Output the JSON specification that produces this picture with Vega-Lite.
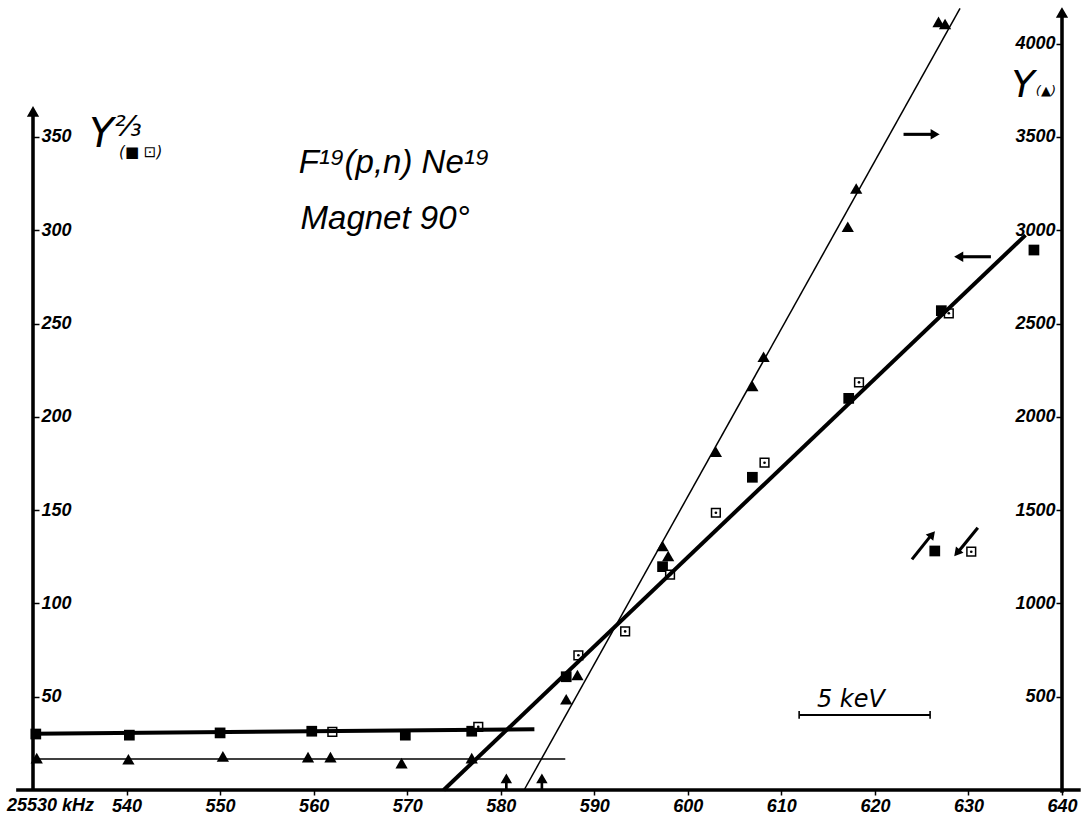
{
  "$schema": "https://vega.github.io/schema/vega-lite/v6.json",
  "width": 1029,
  "height": 790,
  "autosize": {"type": "none"},
  "padding": {"left": 33, "top": 0, "right": 24, "bottom": 27},
  "background": "white",
  "config": {
    "view": {"stroke": null},
    "axis": {
      "grid": false,
      "domain": false,
      "labelFont": "Liberation Sans",
      "labelFontSize": 18,
      "labelFontWeight": "bold",
      "labelFontStyle": "italic",
      "labelColor": "black",
      "tickColor": "black",
      "tickWidth": 1.5
    }
  },
  "datasets": {
    "sq": [
      {"x": 530.3, "y": 30.0, "k": "filled"},
      {"x": 540.3, "y": 29.4, "k": "filled"},
      {"x": 550.0, "y": 30.6, "k": "filled"},
      {"x": 559.8, "y": 31.5, "k": "filled"},
      {"x": 562.0, "y": 31.2, "k": "open"},
      {"x": 569.8, "y": 29.4, "k": "filled"},
      {"x": 576.9, "y": 31.5, "k": "filled"},
      {"x": 577.6, "y": 33.8, "k": "open"},
      {"x": 587.0, "y": 60.7, "k": "filled"},
      {"x": 588.3, "y": 72.2, "k": "open"},
      {"x": 593.3, "y": 85.0, "k": "open"},
      {"x": 597.3, "y": 119.7, "k": "filled"},
      {"x": 598.1, "y": 115.4, "k": "open"},
      {"x": 603.0, "y": 148.6, "k": "open"},
      {"x": 606.9, "y": 167.6, "k": "filled"},
      {"x": 608.2, "y": 175.4, "k": "open"},
      {"x": 617.2, "y": 209.9, "k": "filled"},
      {"x": 618.3, "y": 218.5, "k": "open"},
      {"x": 627.1, "y": 256.9, "k": "filled"},
      {"x": 627.9, "y": 255.5, "k": "open"},
      {"x": 637.0, "y": 289.4, "k": "filled"},
      {"x": 626.4, "y": 128.1, "k": "filled"},
      {"x": 630.3, "y": 127.7, "k": "open"}
    ]
  },
  "resolve": {"scale": {"y": "independent"}},
  "layer": [
    {
      "data": {"name": "sq"},
      "transform": [{"filter": "datum.k === 'filled'"}],
      "mark": {"type": "point", "shape": "square", "filled": true, "size": 115, "color": "black", "opacity": 1},
      "encoding": {
        "x": {"field": "x", "type": "quantitative", "title": null, "scale": {"domain": [530, 640], "nice": false, "zero": false},
          "axis": {"orient": "bottom", "values": [540, 550, 560, 570, 580, 590, 600, 610, 620, 630, 640],
            "tickSize": 5, "labelPadding": 2, "labelFlush": false, "labelOverlap": false}},
        "y": {"field": "y", "type": "quantitative", "title": null, "scale": {"domain": [0, 423.4], "nice": false, "zero": false},
          "axis": {"orient": "right", "offset": -1029, "values": [50, 100, 150, 200, 250, 300, 350],
            "tickSize": 6, "labelPadding": 2, "labelAlign": "left"}}
      }
    },
    {
      "data": {"name": "sq"},
      "transform": [{"filter": "datum.k === 'open'"}],
      "mark": {"type": "point", "shape": "square", "filled": true, "fill": "white", "stroke": "black", "strokeWidth": 1.5, "size": 76, "opacity": 1},
      "encoding": {
        "x": {"field": "x", "type": "quantitative", "title": null, "scale": {"domain": [530, 640], "nice": false, "zero": false}},
        "y": {"field": "y", "type": "quantitative", "scale": {"domain": [0, 423.4], "nice": false, "zero": false}, "axis": null}
      }
    },
    {
      "data": {"name": "sq"},
      "transform": [{"filter": "datum.k === 'open'"}],
      "mark": {"type": "point", "shape": "circle", "filled": true, "color": "black", "size": 7, "opacity": 1},
      "encoding": {
        "x": {"field": "x", "type": "quantitative", "title": null, "scale": {"domain": [530, 640], "nice": false, "zero": false}},
        "y": {"field": "y", "type": "quantitative", "scale": {"domain": [0, 423.4], "nice": false, "zero": false}, "axis": null}
      }
    },
    {
      "data": {"values": [
        {"x1": 530.0, "y1": 30.2, "x2": 583.6, "y2": 32.6, "w": "thick"},
        {"x1": 573.9, "y1": 0.0, "x2": 636.1, "y2": 297.4, "w": "thick"},
        {"x1": 528.2, "y1": 0.0, "x2": 642.0, "y2": 0.0, "w": "axis"},
        {"x1": 530.0, "y1": -0.5, "x2": 530.0, "y2": 364.0, "w": "axis"},
        {"x1": 640.0, "y1": -1.5, "x2": 640.0, "y2": 416.0, "w": "axis"},
        {"x1": 623.06, "y1": 351.4, "x2": 626.2, "y2": 351.4, "w": "arrow"},
        {"x1": 632.4, "y1": 285.8, "x2": 629.2, "y2": 285.8, "w": "arrow"},
        {"x1": 623.96, "y1": 123.6, "x2": 625.9, "y2": 135.8, "w": "arrow"},
        {"x1": 631.0, "y1": 140.6, "x2": 629.0, "y2": 128.2, "w": "arrow"},
        {"x1": 580.6, "y1": 0.0, "x2": 580.6, "y2": 5.0, "w": "shaft"},
        {"x1": 584.4, "y1": 0.0, "x2": 584.4, "y2": 5.0, "w": "shaft"},
        {"x1": 611.9, "y1": 40.2, "x2": 625.9, "y2": 40.2, "w": "bar"}
      ]},
      "mark": {"type": "rule", "color": "black", "strokeCap": "butt"},
      "encoding": {
        "x": {"field": "x1", "type": "quantitative", "title": null, "scale": {"domain": [530, 640], "nice": false, "zero": false}},
        "x2": {"field": "x2"},
        "y": {"field": "y1", "type": "quantitative", "scale": {"domain": [0, 423.4], "nice": false, "zero": false}, "axis": null},
        "y2": {"field": "y2"},
        "strokeWidth": {"field": "w", "type": "nominal", "legend": null,
          "scale": {"domain": ["thick", "axis", "arrow", "shaft", "bar"], "range": [4, 2.2, 2.2, 3.2, 1.6]}}
      }
    },
    {
      "data": {"values": [
        {"x": 530.0, "y": 363.5, "shape": "triangle-up", "a": 0, "s": 90},
        {"x": 640.0, "y": 416.5, "shape": "triangle-up", "a": 0, "s": 90},
        {"x": 626.4, "y": 351.4, "shape": "triangle-right", "a": 0, "s": 60},
        {"x": 629.0, "y": 285.8, "shape": "triangle-left", "a": 0, "s": 60},
        {"x": 626.1, "y": 136.8, "shape": "triangle-up", "a": 40, "s": 50},
        {"x": 628.8, "y": 127.2, "shape": "triangle-up", "a": 220, "s": 50},
        {"x": 580.6, "y": 6.0, "shape": "triangle-up", "a": 0, "s": 75},
        {"x": 584.4, "y": 6.0, "shape": "triangle-up", "a": 0, "s": 75},
        {"x": 611.9, "y": 40.2, "shape": "stroke", "a": 90, "s": 60},
        {"x": 625.9, "y": 40.2, "shape": "stroke", "a": 90, "s": 60}
      ]},
      "mark": {"type": "point", "filled": true, "color": "black", "opacity": 1, "strokeWidth": 1.6},
      "encoding": {
        "x": {"field": "x", "type": "quantitative", "title": null, "scale": {"domain": [530, 640], "nice": false, "zero": false}},
        "y": {"field": "y", "type": "quantitative", "scale": {"domain": [0, 423.4], "nice": false, "zero": false}, "axis": null},
        "shape": {"field": "shape", "type": "nominal", "scale": null, "legend": null},
        "angle": {"field": "a", "type": "quantitative", "scale": null},
        "size": {"field": "s", "type": "quantitative", "scale": null, "legend": null},
        "stroke": {"value": "black"}
      }
    },
    {
      "data": {"values": [
        {"x": 558.4, "y": 330.7, "t": "F¹⁹(p,n) Ne¹⁹"},
        {"x": 558.6, "y": 300.6, "t": "Magnet 90°"}
      ]},
      "mark": {"type": "text", "font": "Liberation Sans", "fontSize": 33, "fontStyle": "italic", "align": "left", "baseline": "alphabetic", "color": "black"},
      "encoding": {
        "x": {"field": "x", "type": "quantitative", "title": null, "scale": {"domain": [530, 640], "nice": false, "zero": false}},
        "y": {"field": "y", "type": "quantitative", "scale": {"domain": [0, 423.4], "nice": false, "zero": false}, "axis": null},
        "text": {"field": "t"}
      }
    },
    {
      "data": {"values": [
        {"x": 536.0, "y": 344.6, "t": "Y", "fs": 40},
        {"x": 634.6, "y": 371.5, "t": "Y", "fs": 38},
        {"x": 538.7, "y": 350.5, "t": "⅔", "fs": 28},
        {"x": 539.2, "y": 339.0, "t": "(■ ⊡)", "fs": 15},
        {"x": 637.2, "y": 372.3, "t": "(▲)", "fs": 13},
        {"x": 613.8, "y": 44.6, "t": "5 keV", "fs": 24}
      ]},
      "mark": {"type": "text", "font": "DejaVu Sans", "fontStyle": "italic", "align": "left", "baseline": "alphabetic", "color": "black"},
      "encoding": {
        "x": {"field": "x", "type": "quantitative", "title": null, "scale": {"domain": [530, 640], "nice": false, "zero": false}},
        "y": {"field": "y", "type": "quantitative", "scale": {"domain": [0, 423.4], "nice": false, "zero": false}, "axis": null},
        "text": {"field": "t"},
        "size": {"field": "fs", "type": "quantitative", "scale": null, "legend": null}
      }
    },
    {
      "data": {"values": [{"x": 530.0, "y": 0.0, "t": "25530 kHz"}]},
      "mark": {"type": "text", "font": "Liberation Sans", "fontSize": 18, "fontWeight": "bold", "fontStyle": "italic", "align": "left", "baseline": "top", "dx": -26, "dy": 7, "color": "black"},
      "encoding": {
        "x": {"field": "x", "type": "quantitative", "title": null, "scale": {"domain": [530, 640], "nice": false, "zero": false}},
        "y": {"field": "y", "type": "quantitative", "scale": {"domain": [0, 423.4], "nice": false, "zero": false}, "axis": null},
        "text": {"field": "t"}
      }
    },
    {
      "data": {"values": [
        {"x": 530.4, "y": 171}, {"x": 540.2, "y": 165}, {"x": 550.3, "y": 180},
        {"x": 559.4, "y": 176}, {"x": 561.8, "y": 176}, {"x": 569.4, "y": 144},
        {"x": 576.9, "y": 171}, {"x": 587.0, "y": 486}, {"x": 588.2, "y": 616},
        {"x": 597.3, "y": 1308}, {"x": 597.9, "y": 1254}, {"x": 603.0, "y": 1813},
        {"x": 606.9, "y": 2165}, {"x": 608.1, "y": 2322}, {"x": 617.1, "y": 3019},
        {"x": 618.0, "y": 3224}, {"x": 626.8, "y": 4117}, {"x": 627.5, "y": 4105}
      ]},
      "mark": {"type": "point", "shape": "triangle-up", "filled": true, "color": "black", "size": 150, "opacity": 1},
      "encoding": {
        "x": {"field": "x", "type": "quantitative", "title": null, "scale": {"domain": [530, 640], "nice": false, "zero": false}},
        "y": {"field": "y", "type": "quantitative", "title": null, "scale": {"domain": [0, 4234], "nice": false, "zero": false},
          "axis": {"orient": "left", "offset": -1029, "values": [500, 1000, 1500, 2000, 2500, 3000, 3500, 4000],
            "format": "d", "tickSize": 6, "labelPadding": 1, "labelAlign": "right"}}
      }
    },
    {
      "data": {"values": [
        {"x1": 530.0, "y1": 166, "x2": 586.9, "y2": 166},
        {"x1": 582.5, "y1": 0, "x2": 629.1, "y2": 4189}
      ]},
      "mark": {"type": "rule", "color": "black", "strokeWidth": 1.5},
      "encoding": {
        "x": {"field": "x1", "type": "quantitative", "title": null, "scale": {"domain": [530, 640], "nice": false, "zero": false}},
        "x2": {"field": "x2"},
        "y": {"field": "y1", "type": "quantitative", "scale": {"domain": [0, 4234], "nice": false, "zero": false}, "axis": null},
        "y2": {"field": "y2"}
      }
    }
  ]
}
